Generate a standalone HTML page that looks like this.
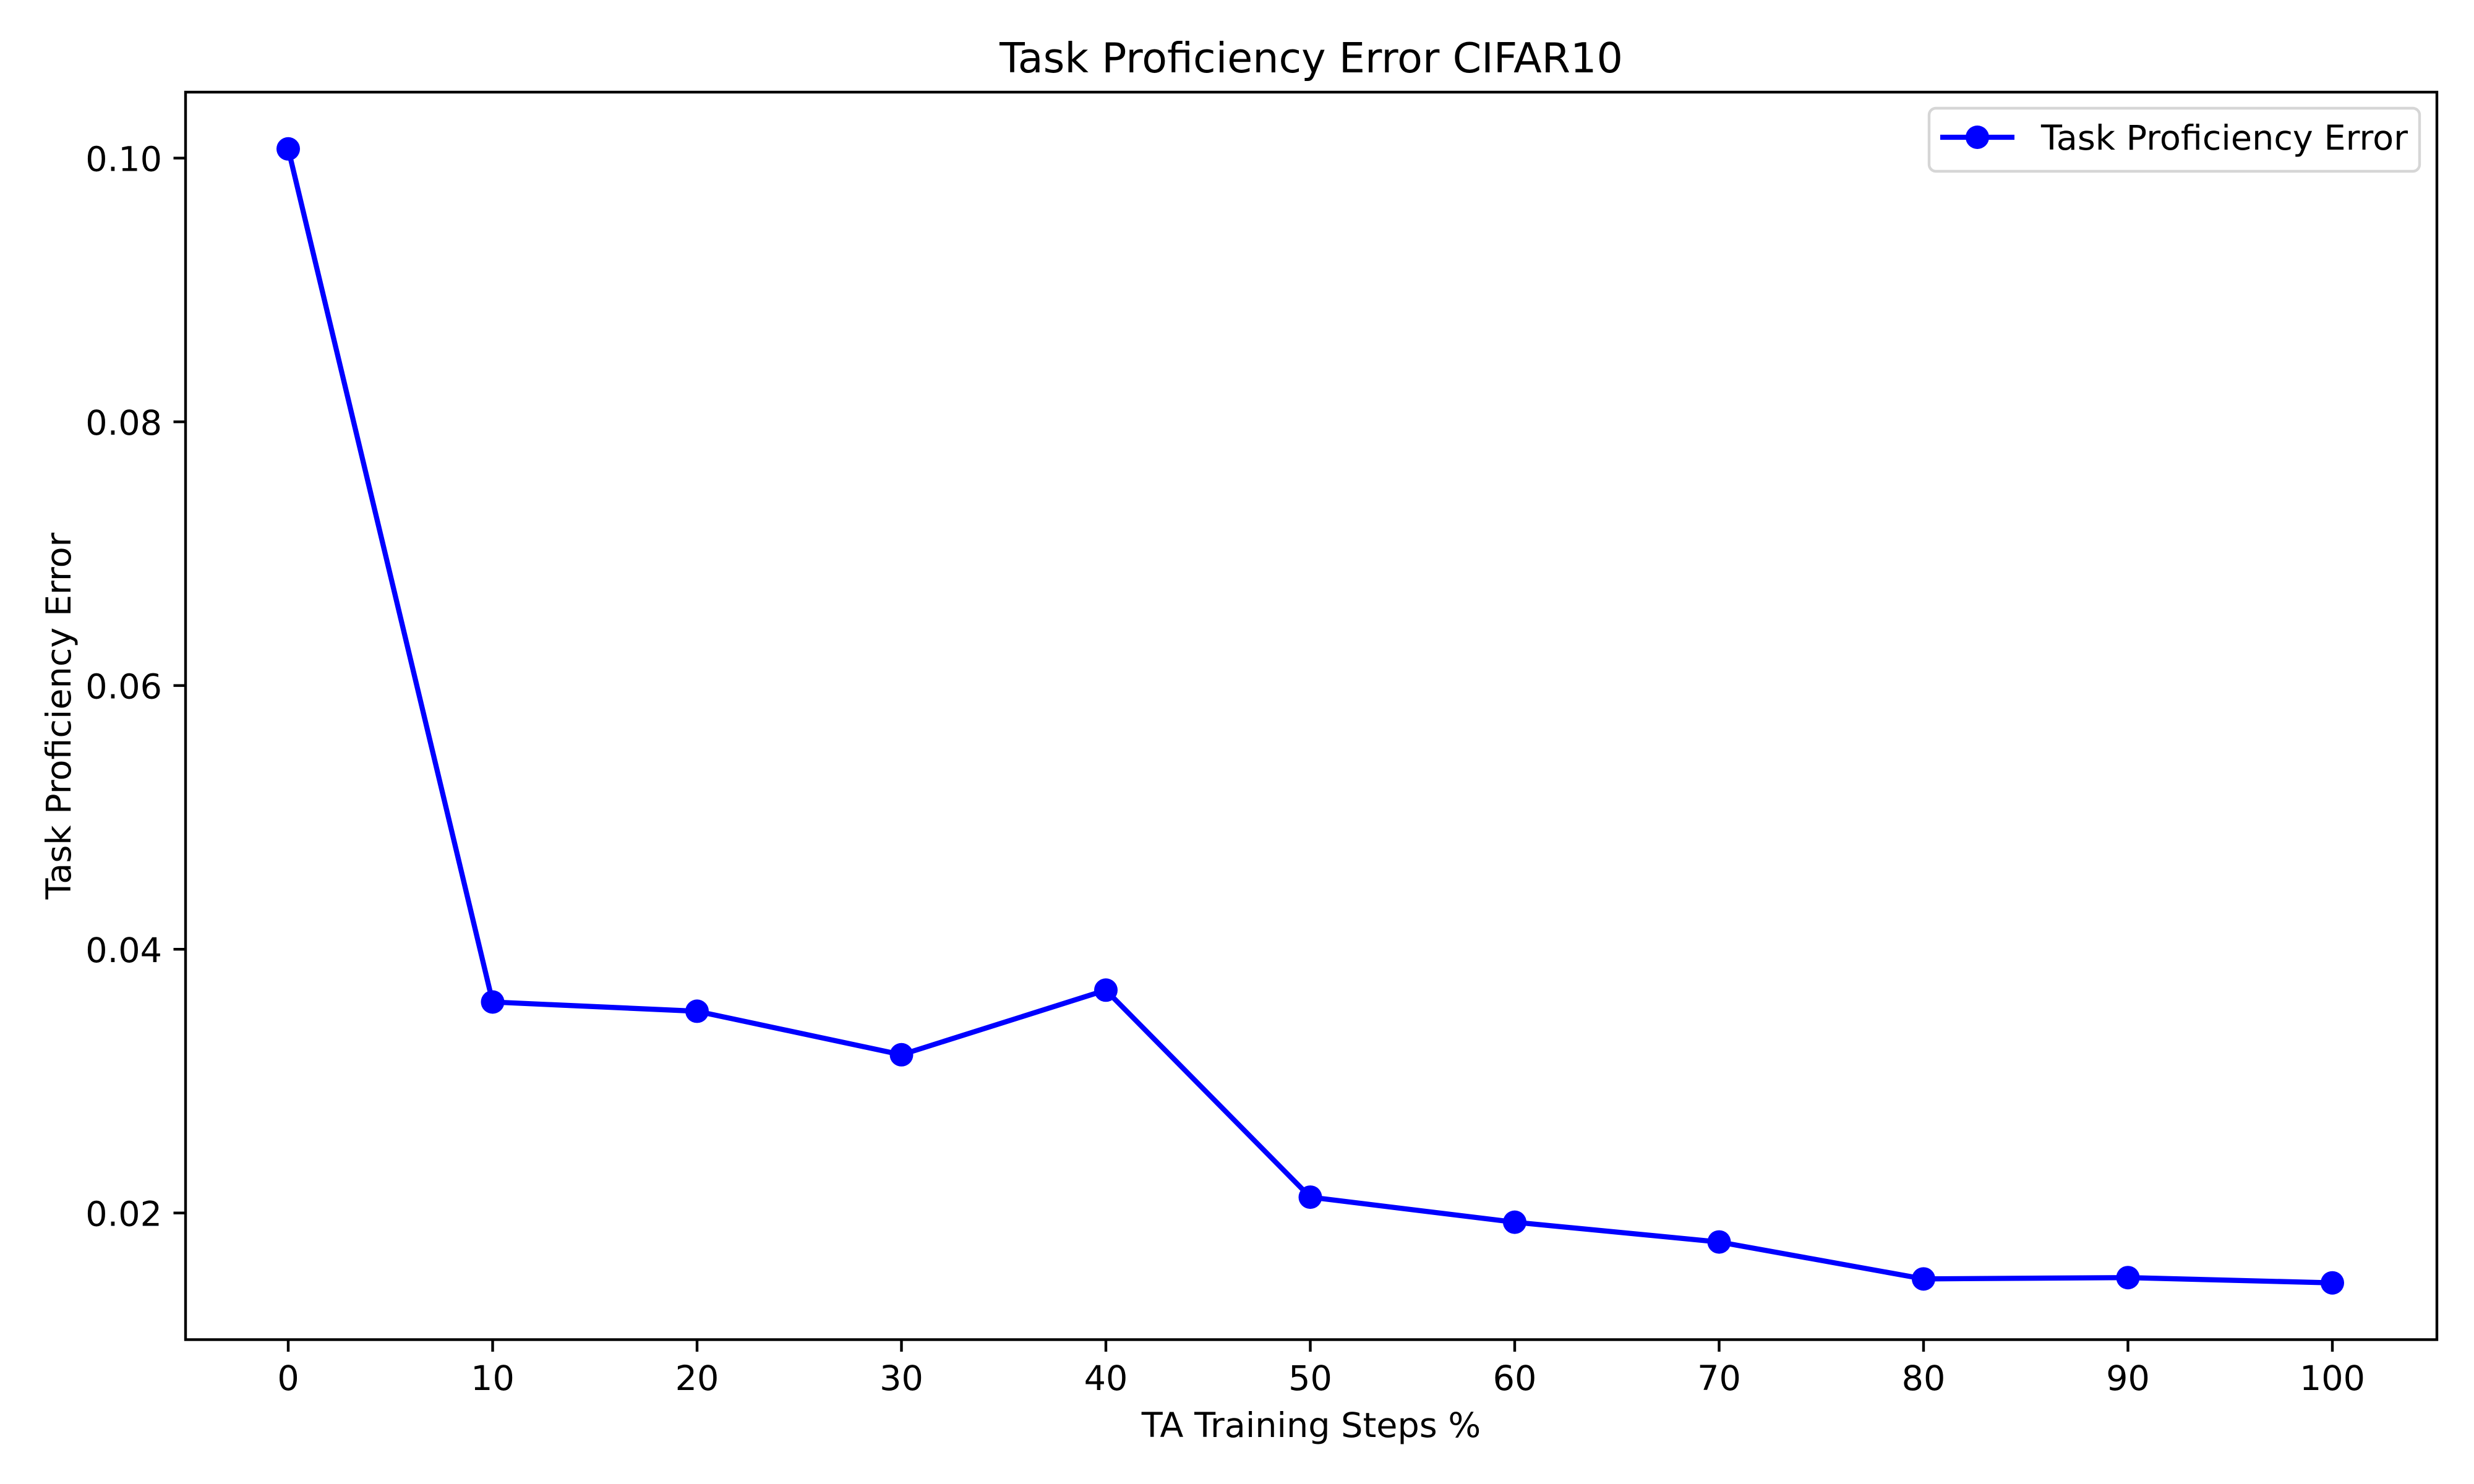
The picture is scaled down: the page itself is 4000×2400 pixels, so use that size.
<!DOCTYPE html>
<html><head><meta charset="utf-8"><style>
html,body{margin:0;padding:0;background:#fff;}
svg{display:block;font-family:"DejaVu Sans","Liberation Sans",sans-serif;}
</style></head><body>
<svg id="chart" width="4000" height="2400" viewBox="0 0 4000 2400" xmlns="http://www.w3.org/2000/svg">
<rect width="4000" height="2400" fill="#fff"/>
<text x="2120" y="117" font-size="66.7" text-anchor="middle">Task Proficiency Error CIFAR10</text>
<text x="2120" y="2324" font-size="55.6" text-anchor="middle">TA Training Steps %</text>
<text transform="translate(114,1158) rotate(-90)" font-size="55.6" text-anchor="middle">Task Proficiency Error</text>
<g id="xticks"></g>
<g id="yticks"></g>
<g id="series"></g>
<rect x="300" y="149" width="3640" height="2017.5" fill="none" stroke="#000" stroke-width="4.4"/>
<g>
<rect x="3119" y="175" width="793" height="102" rx="11" fill="#fff" fill-opacity="0.8" stroke="#d6d6d6" stroke-width="4.4"/>
<line x1="3137" y1="222" x2="3257" y2="222" stroke="#0000ff" stroke-width="8.3"/>
<circle cx="3197" cy="222" r="19" fill="#0000ff"/>
<text x="3300" y="242" font-size="55.6">Task Proficiency Error</text>
</g>
</svg>
<script>
const categories = [0,10,20,30,40,50,60,70,80,90,100];
const errorValues = [0.1007,0.0360,0.0353,0.0320,0.0369,0.0212,0.0193,0.0178,0.0150,0.0151,0.0147];
const xTickValues = [0,10,20,30,40,50,60,70,80,90,100];
const yTickValues = [0.02,0.04,0.06,0.08,0.10];
const yTickLabels = ["0.02","0.04","0.06","0.08","0.10"];

const NS = "http://www.w3.org/2000/svg";
function xScale(v){ return 466 + (v - 0) * 33.05; }
function yScale(v){ return 1961.7 - (v - 0.02) * 21325; }
function mk(tag, attrs, parent){
  const e = document.createElementNS(NS, tag);
  for (const k in attrs) e.setAttribute(k, attrs[k]);
  parent.appendChild(e); return e;
}
const xg = document.getElementById('xticks');
xTickValues.forEach(v => {
  const x = xScale(v);
  const t = mk('line', {x1:x, y1:2166.5, x2:x, y2:2186, stroke:'#000', 'stroke-width':4.4}, xg);
  
  
  const l = mk('text', {x:x, y:2248, 'font-size':55.6, 'text-anchor':'middle'}, xg);
  l.textContent = String(v);
  
  
});
const yg = document.getElementById('yticks');
yTickValues.forEach((v, i) => {
  const y = yScale(v);
  const t = mk('line', {x1:280.5, y1:y, x2:300, y2:y, stroke:'#000', 'stroke-width':4.4}, yg);
  
  
  const l = mk('text', {x:262, y:y + 21, 'font-size':55.6, 'text-anchor':'end'}, yg);
  l.textContent = yTickLabels[i];
  
  
});
const sg = document.getElementById('series');
const pts = categories.map((c, i) => xScale(c) + ',' + yScale(errorValues[i])).join(' ');
const pl = mk('polyline', {points:pts, fill:'none', stroke:'#0000ff', 'stroke-width':8.3, 'stroke-linejoin':'round', 'stroke-linecap':'square'}, sg);


categories.forEach((c, i) => {
  const p = mk('circle', {cx:xScale(c), cy:yScale(errorValues[i]), r:19, fill:'#0000ff'}, sg);
  
  
});
</script>
</body></html>
